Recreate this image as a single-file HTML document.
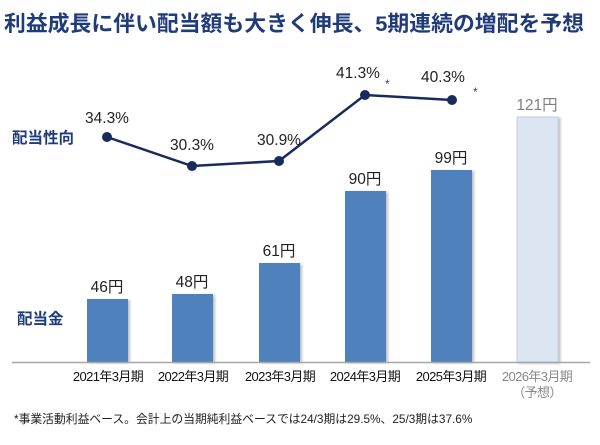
<!DOCTYPE html>
<html><head><meta charset="utf-8"><style>
body{margin:0;background:#fff;}
svg text{font-family:"Liberation Sans","Noto Sans CJK JP",sans-serif;}
</style></head><body>
<svg width="600" height="440" viewBox="0 0 600 440" xmlns="http://www.w3.org/2000/svg">
<text x="4" y="31" font-size="21.5" font-weight="bold" fill="#1f3b7a" textLength="580" lengthAdjust="spacingAndGlyphs">利益成長に伴い配当額も大きく伸長、5期連続の増配を予想</text>
<defs><filter id="s" x="-20%" y="-20%" width="140%" height="140%"><feDropShadow dx="2" dy="1" stdDeviation="1.2" flood-color="#000" flood-opacity="0.25"/></filter></defs>
<g filter="url(#s)">
<rect x="87" y="299" width="41" height="63" fill="#4f81bd"/>
<rect x="172" y="294" width="41" height="68" fill="#4f81bd"/>
<rect x="259" y="263" width="41" height="99" fill="#4f81bd"/>
<rect x="345" y="191" width="41" height="171" fill="#4f81bd"/>
<rect x="431" y="170" width="41" height="192" fill="#4f81bd"/>
<rect x="517" y="117" width="41" height="245" fill="#dce6f2" stroke="#c5d3e6" stroke-width="1"/>
</g>
<line x1="12" y1="362.5" x2="590" y2="362.5" stroke="#a6a6a6" stroke-width="1.5"/>
<g font-size="15.5" fill="#222" text-anchor="middle">
<text x="107" y="292">46円</text><text x="192" y="287">48円</text><text x="279" y="256">61円</text>
<text x="365" y="184">90円</text><text x="451" y="163">99円</text><text x="537" y="110" fill="#808080">121円</text>
</g>
<polyline points="107,137 192,166 279,161 365,95 452,100" fill="none" stroke="#172b5c" stroke-width="2.5"/>
<g fill="#172b5c"><circle cx="107" cy="137" r="5"/><circle cx="192" cy="166" r="5"/><circle cx="279" cy="161" r="5"/><circle cx="365" cy="95" r="5"/><circle cx="452" cy="100" r="5"/></g>
<g font-size="15.5" fill="#222" text-anchor="middle">
<text x="107" y="123">34.3%</text><text x="192" y="150">30.3%</text><text x="279" y="145">30.9%</text>
<text x="358" y="78">41.3%</text><text x="443" y="82">40.3%</text>
</g>
<text x="385" y="88" font-size="12" fill="#444">*</text>
<text x="473" y="96" font-size="12" fill="#444">*</text>
<text x="12" y="143" font-size="15.5" font-weight="bold" fill="#1f3b7a">配当性向</text>
<text x="17" y="324" font-size="15.5" font-weight="bold" fill="#1f3b7a">配当金</text>
<g font-size="13" fill="#111" text-anchor="middle" letter-spacing="-0.6">
<text x="108" y="381">2021年3月期</text><text x="193" y="381">2022年3月期</text><text x="280" y="381">2023年3月期</text>
<text x="365" y="381">2024年3月期</text><text x="451" y="381">2025年3月期</text>
<text x="537" y="381" fill="#8a8a8a">2026年3月期</text><text x="537" y="397" fill="#8a8a8a">（予想）</text>
</g>
<text x="14" y="423" font-size="11.8" fill="#222">*事業活動利益ベース。会計上の当期純利益ベースでは24/3期は29.5%、25/3期は37.6%</text>
</svg>
</body></html>
